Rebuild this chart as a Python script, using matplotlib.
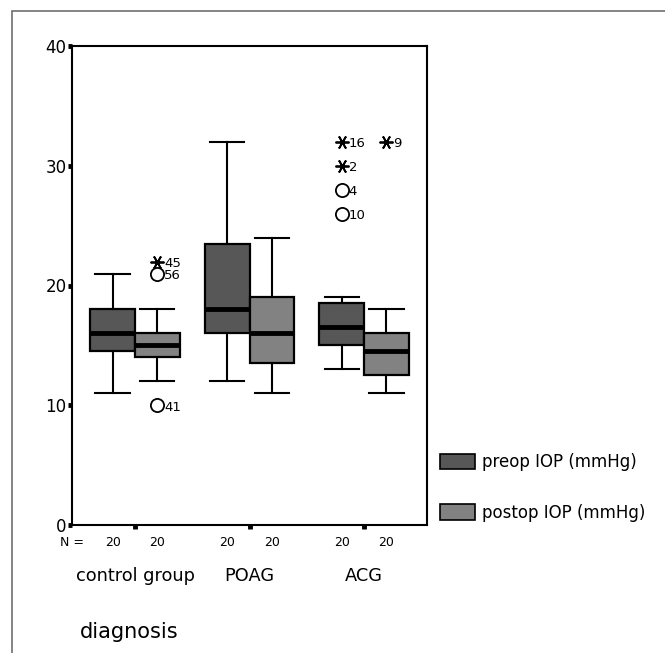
import matplotlib
matplotlib.use("Agg")
import matplotlib.pyplot as plt
from matplotlib.patches import Patch, Rectangle
from matplotlib.transforms import blended_transform_factory

categories = ["control group", "POAG", "ACG"]
series = ["preop IOP (mmHg)", "postop IOP (mmHg)"]
counts = [[20, 20], [20, 20], [20, 20]]

# box stats per group: [preop, postop]
whislo = [[11, 12], [12, 11], [13, 11]]
q1 = [[14.5, 14], [16, 13.5], [15, 12.5]]
med = [[16, 15], [18, 16], [16.5, 14.5]]
q3 = [[18, 16], [23.5, 19], [18.5, 16]]
whishi = [[21, 18], [32, 24], [19, 18]]

# outliers: (group index, series index, value, case label, kind)
out_group = [0, 0, 0, 2, 2, 2, 2, 2]
out_series = [1, 1, 1, 0, 0, 0, 0, 1]
out_value = [22, 21, 10, 32, 30, 28, 26, 32]
out_label = ["45", "56", "41", "16", "2", "4", "10", "9"]
out_kind = ["extreme", "outlier", "outlier", "extreme", "extreme", "outlier", "outlier", "extreme"]

colors = ["#575757", "#828282"]
offset = 0.195
width = 0.39

fig = plt.figure(figsize=(6.65, 6.53), dpi=100)
ax = fig.add_axes([72/665, 1-525/653, (427-72)/665, (525-46)/653])

for s in range(2):
    stats = []
    positions = []
    for g in range(3):
        stats.append(dict(med=med[g][s], q1=q1[g][s], q3=q3[g][s],
                          whislo=whislo[g][s], whishi=whishi[g][s], fliers=[]))
        positions.append(g + 1 + (2*s - 1) * offset)
    ax.bxp(stats, positions=positions, widths=width, capwidths=0.3,
           patch_artist=True, showfliers=False, manage_ticks=False,
           boxprops=dict(facecolor=colors[s], edgecolor="black", linewidth=1.6),
           medianprops=dict(color="black", linewidth=3.5, solid_capstyle="butt"),
           whiskerprops=dict(color="black", linewidth=1.5),
           capprops=dict(color="black", linewidth=1.5))

for g, s, v, lab, kind in zip(out_group, out_series, out_value, out_label, out_kind):
    x = g + 1 + (2*s - 1) * offset
    if kind == "extreme":
        ax.plot(x, v, marker=(6, 2, 90), markersize=10, color="black",
                markeredgewidth=1.3, linestyle="none")
    else:
        ax.plot(x, v, marker="o", markersize=9.5, markerfacecolor="white",
                markeredgecolor="black", markeredgewidth=1.3, linestyle="none")
    ax.annotate(lab, (x, v), xytext=(5, -1.5), textcoords="offset points",
                ha="left", va="center", fontsize=9.5, color="black")

ax.set_xlim(0.45, 3.55)
ax.set_ylim(0, 40)
ax.set_yticks([0, 10, 20, 30, 40])
ax.set_xticks([1, 2, 3], labels=categories)
ax.tick_params(axis="y", direction="out", length=3, width=3.5, labelsize=12, pad=1)
ax.tick_params(axis="x", direction="out", length=3, width=3.5, labelsize=12.8, pad=27)
for sp in ax.spines.values():
    sp.set_linewidth(1.5)
    sp.set_color("black")

# N = row
trans = blended_transform_factory(ax.transData, ax.transAxes)
ny = -(543 - 525) / 479
ax.text(60/665, 1 - 543/653, "N =", transform=fig.transFigure, ha="left", va="center", fontsize=9)
for g in range(3):
    for s in range(2):
        ax.text(g + 1 + (2*s - 1) * offset, ny, str(counts[g][s]), transform=trans,
                ha="center", va="center", fontsize=9)

fig.text(80/665, 1 - 632/653, "diagnosis", ha="left", va="center", fontsize=15)

handles = [Patch(facecolor=colors[i], edgecolor="black", linewidth=1.2) for i in range(2)]
fig.legend(handles, series, loc="upper left", bbox_to_anchor=(440/665, 1 - 453/653),
           frameon=False, fontsize=12, handlelength=2.1, handleheight=1.05,
           labelspacing=1.95, handletextpad=0.4, borderaxespad=0, borderpad=0)

# outer frame
fig.add_artist(Rectangle((12/665, -0.1), 1.2, 1 - 11/653 + 0.1, transform=fig.transFigure,
                         fill=False, edgecolor="#707070", linewidth=1.2))

fig.savefig("out.png", dpi=100)
